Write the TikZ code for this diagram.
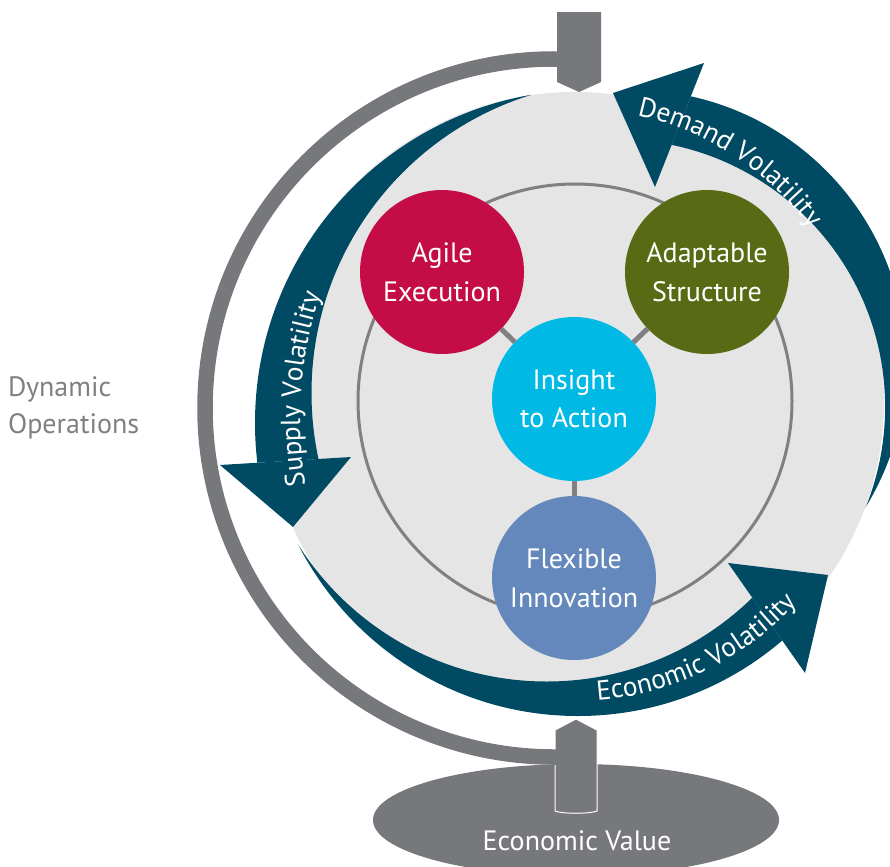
\documentclass[tikz,border=0pt]{standalone}
\usepackage{fontspec}
\setmainfont{PT Sans}
\usetikzlibrary{decorations.text}

\definecolor{bandblue}{RGB}{0,75,99}
\definecolor{globegrey}{RGB}{229,229,230}
\definecolor{standgrey}{RGB}{119,120,124}
\definecolor{ringgrey}{RGB}{128,128,131}
\definecolor{labelgrey}{RGB}{128,128,128}
\definecolor{agilered}{RGB}{196,13,71}
\definecolor{adaptgreen}{RGB}{88,107,20}
\definecolor{insightcyan}{RGB}{0,185,228}
\definecolor{flexblue}{RGB}{100,136,187}

\newcommand\hubfont{\fontsize{28bp}{38.5bp}\selectfont}
\newcommand\bandfont{\fontsize{27.5bp}{33bp}\selectfont}
\newcommand\labelfont{\fontsize{28bp}{37bp}\selectfont}

\tikzset{
  hub/.style={circle, minimum size=164bp, inner sep=0pt, outer sep=0pt,
    text=white, align=center, font=\hubfont},
  link/.style={draw=ringgrey, line width=5bp},
  ring/.style={draw=ringgrey, line width=3bp},
  band/.style={fill=bandblue},
  stand/.style={draw=standgrey, line width=15.5bp},
  bandtext/.style={decorate, decoration={text along path, text align=center,
    text={|\bandfont\color{white}|#1}}},
  sidelabel/.style={anchor=base west, inner sep=0pt, text=labelgrey, font=\labelfont},
}

\begin{document}
\begin{tikzpicture}[x=1bp, y=-1bp]
\useasboundingbox (0,0) rectangle (890,867);
\clip (0,0) rectangle (890,867);

% pedestal
\fill[standgrey] (576,820) ellipse [x radius=203, y radius=56];
\node[anchor=base, inner sep=0pt, text=white, font=\labelfont] (value) at (577,850) {Economic Value};

% mounts of the meridian
\fill[standgrey] (557,12) -- (601,12) -- (601,82) -- (579,92) -- (557,82) -- cycle;
\filldraw[fill=standgrey, draw=white, line width=1bp]
  (555,730) -- (576,719) -- (597,730) -- (597,811)
  .. controls (590,814) and (562,814) .. (555,811) -- cycle;

% meridian arc
\draw[stand] (554,408) ++(272:349) arc[start angle=272, end angle=88, radius=349];

% globe and orbit ring
\fill[globegrey] (575,401) circle [radius=309];
\draw[ring] (575,401) circle [radius=217];

% capability hubs
\node[hub, fill=insightcyan] (insight) at (574,399) {Insight\\to Action};
\node[hub, fill=agilered] (agile) at (442,272) {Agile\\Execution};
\node[hub, fill=adaptgreen] (adapt) at (707,272) {Adaptable\\Structure};
\node[hub, fill=flexblue] (flex) at (574,578) {Flexible\\Innovation};
\draw[link] (insight) -- (agile);
\draw[link] (insight) -- (adapt);
\draw[link] (insight) -- (flex);

% demand band
\begin{scope}
  \clip (753,-61) -- (568,407) -- (965,541) -- (965,-61) -- cycle;
  \fill[band, even odd rule] (632,364) circle [radius=274] (617.5,407) circle [radius=267.6];
\end{scope}
\fill[band] (613,93) -- (704,63) -- (655,187) -- cycle;

% supply band
\begin{scope}
  \clip (162,-343) -- (814,429) -- (0,478.4) -- (0,-343) -- cycle;
  \fill[band, even odd rule] (588,423) circle [radius=333] (623.5,393) circle [radius=312];
\end{scope}
\fill[band] (220,465) -- (351,457) -- (293,527) -- cycle;

% economic band
\begin{scope}
  \clip (298,545) -- (198,759) -- (882,783) -- (497,233) -- cycle;
  \fill[band, even odd rule] (578,402) circle [radius=314] (546.7,387.4) circle [radius=294.1];
\end{scope}
\fill[band] (728,563) -- (805,673) -- (828,575) -- cycle;

% band labels
\path[bandtext=Demand Volatility] (575,401) ++(-82:292) arc[start angle=-82, end angle=-32, radius=292];
\path[bandtext=Supply Volatility] (700,420) ++(168:400) arc[start angle=168, end angle=201, radius=400];
\path[bandtext=Economic Volatility] (575,401) ++(92:300) arc[start angle=92, end angle=36, radius=300];

% side label
\node[sidelabel] (dyn) at (8,396) {Dynamic};
\node[sidelabel] (ops) at (8,433.3) {Operations};
\end{tikzpicture}
\end{document}
